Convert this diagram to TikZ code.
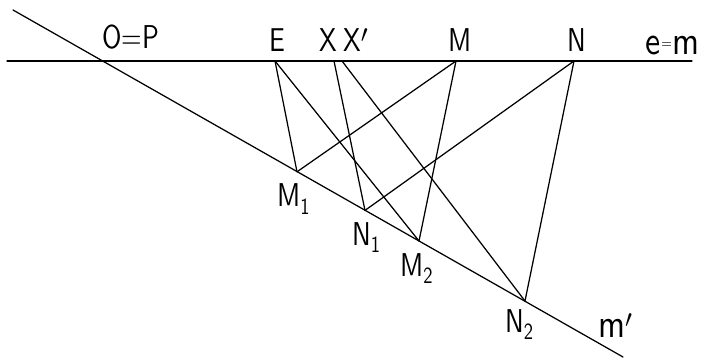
\documentclass[tikz,border=0pt]{standalone}
\usepackage{fontspec}
\newfontfamily\lblfont{lmsans10-regular.otf}[FakeStretch=0.8]
\newfontfamily\lowfont{lmsans10-regular.otf}[FakeStretch=0.85]
\newcommand{\smalleq}{\raisebox{6pt}{\fontsize{16}{16}\selectfont=}}
\begin{document}
\begin{tikzpicture}[x=1pt,y=-1pt,
  ln/.style={line width=1.25pt, line cap=round, line join=round},
  lbl/.style={anchor=base west, inner sep=0pt, font=\lblfont\fontsize{33}{36}\selectfont},
  lowlbl/.style={anchor=base west, inner sep=0pt, font=\lowfont\fontsize{#1}{#1}\selectfont}]
\useasboundingbox (0,0) rectangle (709,358);
% points on e = m
\coordinate (eL) at (7,61);
\coordinate (eR) at (692,61);
\coordinate (O) at (101,61);
\coordinate (E) at (275,61);
\coordinate (X) at (334,61);
\coordinate (Xp) at (342,61);
\coordinate (M) at (456,61);
\coordinate (N) at (574,61);
% points on m'
\coordinate (mS) at (13,10);
\coordinate (mE) at (623,357);
\coordinate (M1) at (297,171.8);
\coordinate (N1) at (365,210.4);
\coordinate (M2) at (419,241);
\coordinate (N2) at (525,301);
% lines
\draw[ln] (eL) -- (eR);
\draw[ln] (mS) -- (mE);
\draw[ln] (E) -- (M1);
\draw[ln] (E) -- (M2);
\draw[ln] (X) -- (N1);
\draw[ln] (Xp) -- (N2);
\draw[ln] (M) -- (M1);
\draw[ln] (M) -- (M2);
\draw[ln] (N) -- (N1);
\draw[ln] (N) -- (N2);
% labels
\node[lbl] (lO) at (102,49) {O=P};
\node[lbl] (lE) at (269,52) {E};
\node[lbl] (lX) at (319,52) {X};
\node[lbl] (lXp) at (343,52) {X$'$};
\node[lbl] (lM) at (448,52) {M};
\node[lbl] (lN) at (567,52) {N};
\node[lowlbl=40] (lem) at (645,55) {e\kern1pt\smalleq\kern1pt m};
\node[lbl] (lM1) at (277,207) {M\textsubscript{1}};
\node[lbl] (lN1) at (352,245) {N\textsubscript{1}};
\node[lbl] (lM2) at (400,276) {M\textsubscript{2}};
\node[lbl] (lN2) at (505,332) {N\textsubscript{2}};
\node[lowlbl=40] (lmp) at (598,337) {m$'$};
\end{tikzpicture}
\end{document}
